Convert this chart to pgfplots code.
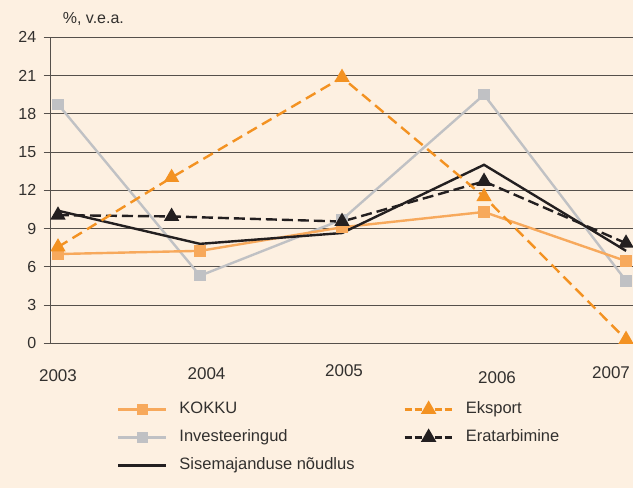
\documentclass[border=0pt]{standalone}
\usepackage{fontspec}
\setmainfont{Liberation Sans}
\usepackage{pgfplots}
\pgfplotsset{compat=1.18}
\definecolor{bg}{RGB}{253,240,225}
\definecolor{kokku}{RGB}{247,169,92}
\definecolor{eksport}{RGB}{243,146,34}
\definecolor{inv}{RGB}{192,193,196}
\definecolor{blk}{RGB}{35,31,32}
\definecolor{gridc}{RGB}{85,80,75}
\definecolor{txt}{RGB}{50,48,46}
\newcommand{\tl}[3]{\raisebox{#2}{\makebox[0pt][l]{\hspace*{#1}\makebox[0pt]{#3}}}}
\begin{document}
\begin{tikzpicture}[x=1pt,y=1pt]
\fill[bg] (0,0) rectangle (633,488);
\begin{axis}[
  at={(50.7pt,144.7pt)}, anchor=south west,
  scale only axis, width=582.3pt, height=306pt,
  xmin=-0.0514, xmax=4.049, ymin=0, ymax=24,
  axis x line*=bottom, axis y line*=left,
  axis line style={-, gridc, line width=0.8pt},
  ytick={0,3,...,24}, ymajorgrids,
  grid style={gridc, line width=0.7pt},
  xtick={0,1,2,3,4},
  xticklabels={\tl{0pt}{0pt}{2003},\tl{6.5pt}{2pt}{2004},\tl{2pt}{4.5pt}{2005},\tl{13pt}{-2.5pt}{2006},\tl{-15pt}{2.5pt}{2007}},
  xtick style={draw=none},
  xticklabel style={anchor=base, yshift=-31pt, font=\fontsize{17}{20}\selectfont, text=txt},
  tick align=outside, major tick length=7pt,
  ytick style={gridc, line width=0.7pt},
  yticklabel style={font=\fontsize{16}{18}\selectfont, text=txt, xshift=-4pt},
  /pgf/number format/assume math mode=true,
  ylabel={\%, v.e.a.},
  ylabel style={rotate=-90, at={(axis description cs:0.0148,1.0467)}, anchor=base west, font=\fontsize{16}{18}\selectfont, text=txt},
  legend columns=2,
  legend style={at={(0.1139,-0.1905)}, anchor=north west, draw=none, fill=none,
    inner sep=0pt, outer sep=0pt, font=\fontsize{16.5}{19}\selectfont, text=txt,
    nodes={inner sep=0pt, text height=12pt, text depth=3.5pt, anchor=west},
    row sep=12.5pt,
    /tikz/every odd column/.append style={column sep=12pt},
    /tikz/every even column/.append style={column sep=10pt}},
  legend image code/.code={\draw[#1] (0pt,0pt) -- (48pt,0pt); \draw[#1, solid] plot coordinates {(24pt,0pt)};},
]
% drawing order
\addplot[inv, line width=2.4pt, mark=square*, mark size=4.5pt, mark options={solid}, forget plot]
  coordinates {(0,18.75) (1,5.3) (2,9.7) (3,19.5) (4,4.9)};
\addplot[kokku, line width=2.4pt, mark=square*, mark size=4.5pt, forget plot]
  coordinates {(0,7.0) (1,7.25) (2,9.1) (3,10.3) (4,6.45)};
\addplot[blk, line width=2.4pt, forget plot]
  coordinates {(0,10.4) (1,7.8) (2,8.65) (3,14.0) (4,7.25)};
\addplot[blk, line width=2.4pt, dash pattern=on 11pt off 5pt, mark=triangle*, mark size=6.5pt, mark options={solid}, forget plot]
  coordinates {(0,10.05) (0.8,9.95) (2,9.55) (3,12.7) (4,7.85)};
\addplot[eksport, line width=2.4pt, dash pattern=on 11pt off 6pt, mark=triangle*, mark size=6.5pt, mark options={solid}, forget plot]
  coordinates {(0,7.55) (0.8,13.0) (2,20.85) (3,11.5) (4,0.3)};
% legend
\addlegendimage{kokku, line width=2.4pt, mark=square*, mark size=4.5pt}
\addlegendentry{\makebox[214pt][l]{KOKKU}}
\addlegendimage{eksport, line width=2.4pt, dash pattern=on 7pt off 3pt, mark=triangle*, mark size=6.5pt}
\addlegendentry{Eksport}
\addlegendimage{inv, line width=2.4pt, mark=square*, mark size=4.5pt}
\addlegendentry{\makebox[214pt][l]{Investeeringud}}
\addlegendimage{blk, line width=2.4pt, dash pattern=on 7pt off 3pt, mark=triangle*, mark size=6.5pt}
\addlegendentry{Eratarbimine}
\addlegendimage{blk, line width=2.4pt}
\addlegendentry{\makebox[214pt][l]{Sisemajanduse nõudlus}}
\end{axis}
\pgfresetboundingbox
\useasboundingbox (0,0) rectangle (633,488);
\end{tikzpicture}
\end{document}
